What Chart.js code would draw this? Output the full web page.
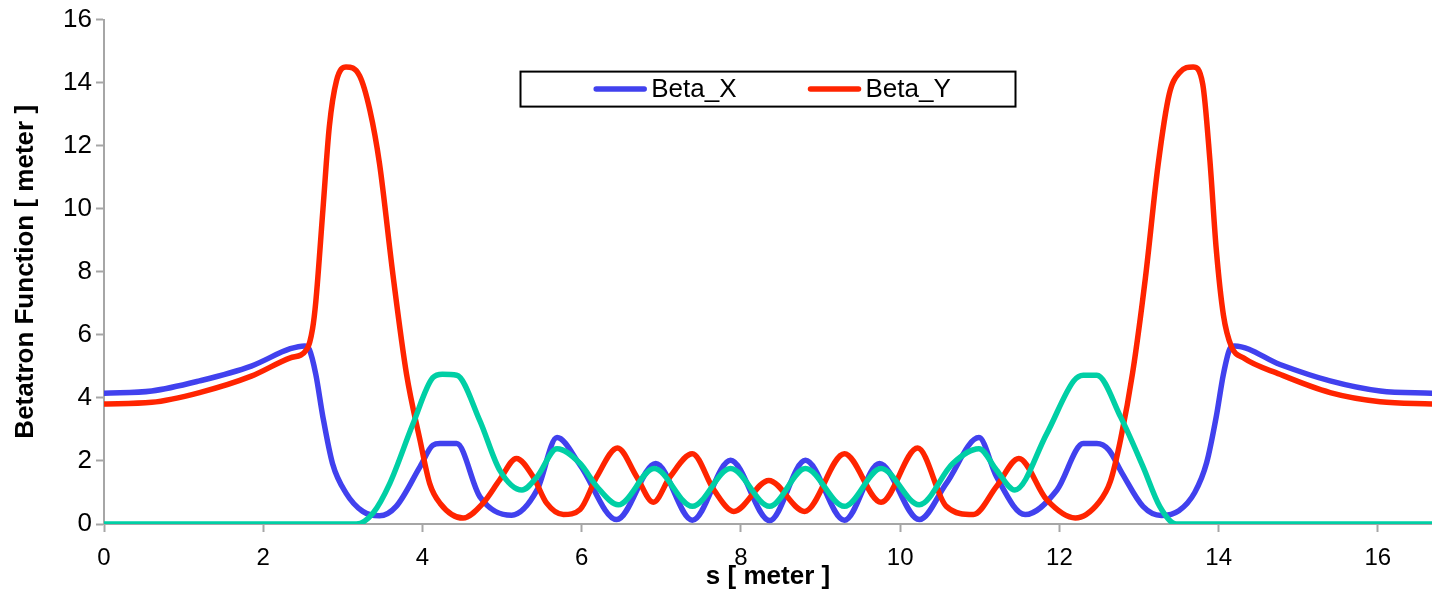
<!DOCTYPE html>
<html>
<head>
<meta charset="utf-8">
<title>Betatron Function</title>
<script src="https://cdn.jsdelivr.net/npm/chart.js@4.4.0/dist/chart.umd.min.js"></script>
<style>
	html, body { margin: 0; padding: 0; background: #fff; }
	#wrap { width: 1432px; height: 595px; position: relative; }
</style>
</head>
<body>
<div id="wrap"><canvas id="betaChart"></canvas></div>
<script>
// s positions [m] and values [m]
const sBetaX = [0, 0.6, 1.2, 1.85, 2.34, 2.52, 2.58, 2.66, 2.75, 2.87, 3.04, 3.25, 3.46, 3.67, 3.97, 4.13, 4.22, 4.43, 4.72, 5.12, 5.44, 5.69, 5.98, 6.44, 6.93, 7.39, 7.87, 8.36, 8.81, 9.30, 9.74, 10.24, 10.58, 10.99, 11.21, 11.57, 11.97, 12.30, 12.47, 12.62, 12.79, 13.05, 13.28, 13.50, 13.70, 13.85, 13.97, 14.06, 14.14, 14.20, 14.77, 15.40, 16.03, 16.68];
const betaX = [4.15, 4.22, 4.54, 5.01, 5.56, 5.65, 5.53, 4.75, 3.39, 1.92, 0.98, 0.40, 0.26, 0.56, 1.82, 2.50, 2.55, 2.55, 0.87, 0.28, 1.08, 2.74, 1.87, 0.14, 1.92, 0.12, 2.02, 0.11, 2.02, 0.12, 1.92, 0.14, 1.29, 2.74, 1.50, 0.30, 1.08, 2.55, 2.55, 2.35, 1.60, 0.56, 0.27, 0.42, 1.00, 1.95, 3.40, 4.75, 5.55, 5.65, 5.06, 4.54, 4.22, 4.15];

const sBetaY = [0, 0.6, 1.2, 1.85, 2.34, 2.55, 2.62, 2.66, 2.75, 2.83, 2.92, 3.04, 3.21, 3.34, 3.46, 3.63, 3.80, 3.97, 4.09, 4.22, 4.51, 4.76, 4.97, 5.18, 5.39, 5.56, 5.77, 5.98, 6.19, 6.45, 6.69, 6.90, 7.11, 7.39, 7.66, 7.91, 8.35, 8.80, 9.30, 9.76, 10.22, 10.58, 10.92, 11.21, 11.49, 11.84, 12.20, 12.50, 12.64, 12.77, 12.92, 13.08, 13.24, 13.38, 13.51, 13.68, 13.80, 13.89, 13.97, 14.06, 14.16, 14.31, 14.77, 15.40, 16.03, 16.68];
const betaY = [3.81, 3.86, 4.17, 4.69, 5.27, 5.55, 6.2, 7.04, 9.98, 12.6, 14.06, 14.5, 14.22, 13.12, 11.44, 7.89, 4.75, 2.65, 1.29, 0.66, 0.19, 0.66, 1.40, 2.08, 1.50, 0.66, 0.30, 0.46, 1.50, 2.41, 1.50, 0.69, 1.50, 2.23, 1.08, 0.40, 1.38, 0.40, 2.23, 0.69, 2.41, 0.56, 0.30, 1.19, 2.08, 0.77, 0.19, 0.70, 1.35, 2.70, 4.80, 7.80, 11.40, 13.64, 14.32, 14.5, 13.96, 11.55, 8.72, 6.63, 5.63, 5.27, 4.75, 4.17, 3.88, 3.81];

const sDisp = [0, 3.17, 3.38, 3.59, 3.88, 4.13, 4.25, 4.43, 4.72, 4.97, 5.25, 5.44, 5.69, 5.98, 6.19, 6.46, 6.91, 7.39, 7.87, 8.36, 8.81, 9.30, 9.76, 10.24, 10.66, 10.99, 11.21, 11.44, 11.84, 12.18, 12.30, 12.47, 12.77, 13.05, 13.26, 13.47, 16.68];
const disp = [0, 0, 0.35, 1.29, 3.17, 4.64, 4.75, 4.72, 3.28, 1.71, 1.08, 1.50, 2.39, 1.92, 1.19, 0.61, 1.76, 0.56, 1.76, 0.56, 1.76, 0.56, 1.76, 0.61, 1.92, 2.39, 1.71, 1.08, 2.86, 4.54, 4.72, 4.72, 3.39, 1.82, 0.56, 0, 0];

const xTicks = [0, 2, 4, 6, 8, 10, 12, 14, 16];
const yTicks = [0, 2, 4, 6, 8, 10, 12, 14, 16];
const sMax = 16.68;

const fontFamily = "'Liberation Sans', Arial, sans-serif";
const axisGray = '#a6a6a6';

function toPoints(xs, ys) {
	return xs.map((x, i) => ({ x: x, y: ys[i] }));
}

// legend drawn as a framed box inside the plot, like the original
const legendBox = {
	id: 'legendBox',
	afterDraw(chart) {
		const ctx = chart.ctx;
		const area = chart.chartArea;
		const cx = (area.left + area.right) / 2;
		const w = 495, h = 35;
		const top = area.top + 52;
		ctx.save();
		ctx.lineWidth = 2;
		ctx.strokeStyle = '#000';
		ctx.strokeRect(cx - w / 2, top, w, h);

		ctx.font = '26px ' + fontFamily;
		ctx.textBaseline = 'middle';
		ctx.textAlign = 'left';
		const items = chart.data.datasets.filter(d => d.showInLegend);
		const lineLen = 54, textGap = 4, itemGap = 71;
		let total = 0;
		items.forEach((d, i) => {
			total += lineLen + textGap + ctx.measureText(d.label).width;
			if (i > 0) total += itemGap;
		});
		let x = cx - total / 2 + 4;
		const y = top + h / 2;
		items.forEach(d => {
			ctx.beginPath();
			ctx.lineWidth = 5.5;
			ctx.lineCap = 'round';
			ctx.strokeStyle = d.borderColor;
			ctx.moveTo(x + 3, y);
			ctx.lineTo(x + lineLen - 3, y);
			ctx.stroke();
			ctx.fillStyle = '#000';
			ctx.fillText(d.label, x + lineLen + textGap, y + 1);
			x += lineLen + textGap + ctx.measureText(d.label).width + itemGap;
		});
		ctx.restore();
	}
};

function chartInit(canvasId) {
	const el = document.getElementById(canvasId);
	if (!el) {
		return;
	}

	const lineStyle = {
		fill: false,
		borderWidth: 5.5,
		pointRadius: 0,
		pointHoverRadius: 0,
		cubicInterpolationMode: 'monotone',
		borderCapStyle: 'round',
		borderJoinStyle: 'round'
	};

	new Chart(el, {
		type: 'line',
		data: {
			datasets: [
				Object.assign({
					label: 'Beta_X',
					data: toPoints(sBetaX, betaX),
					borderColor: '#4141ee',
					showInLegend: true,
					order: 3
				}, lineStyle),
				Object.assign({
					label: 'Beta_Y',
					data: toPoints(sBetaY, betaY),
					borderColor: '#ff2400',
					showInLegend: true,
					order: 2
				}, lineStyle),
				Object.assign({
					label: 'Dispersion',
					data: toPoints(sDisp, disp),
					borderColor: '#00cfa5',
					showInLegend: false,
					order: 1
				}, lineStyle)
			]
		},
		options: {
			responsive: true,
			maintainAspectRatio: false,
			animation: false,
			layout: {
				padding: { top: 15, right: 0, bottom: 0, left: 0 }
			},
			plugins: {
				legend: { display: false },
				tooltip: { enabled: false }
			},
			scales: {
				x: {
					type: 'linear',
					min: 0,
					max: sMax,
					afterBuildTicks: function(scale) {
						scale.ticks = xTicks.map(v => ({ value: v }));
					},
					afterFit: function(scale) {
						scale.height = 71;
					},
					grid: {
						drawOnChartArea: false,
						drawTicks: true,
						tickLength: 8,
						tickWidth: 2,
						color: axisGray
					},
					border: { display: true, color: axisGray, width: 2 },
					ticks: {
						color: '#000',
						padding: 12,
						maxRotation: 0,
						font: { family: fontFamily, size: 24 }
					},
					title: {
						display: true,
						text: 's [ meter ]',
						color: '#000',
						padding: { top: 0, bottom: 3 },
						font: { family: fontFamily, size: 26, weight: 'bold' }
					}
				},
				y: {
					type: 'linear',
					min: 0,
					max: 16,
					afterBuildTicks: function(scale) {
						scale.ticks = yTicks.map(v => ({ value: v }));
					},
					afterFit: function(scale) {
						scale.width = 104;
					},
					grid: {
						drawOnChartArea: false,
						drawTicks: true,
						tickLength: 8,
						tickWidth: 2,
						color: axisGray
					},
					border: { display: true, color: axisGray, width: 2 },
					ticks: {
						color: '#000',
						padding: 4,
						font: { family: fontFamily, size: 26 }
					},
					title: {
						display: true,
						text: 'Betatron Function [ meter ]',
						color: '#000',
						padding: { top: 10, bottom: 0 },
						font: { family: fontFamily, size: 26, weight: 'bold' }
					}
				}
			}
		},
		plugins: [legendBox]
	});
}

chartInit('betaChart');
</script>
</body>
</html>
